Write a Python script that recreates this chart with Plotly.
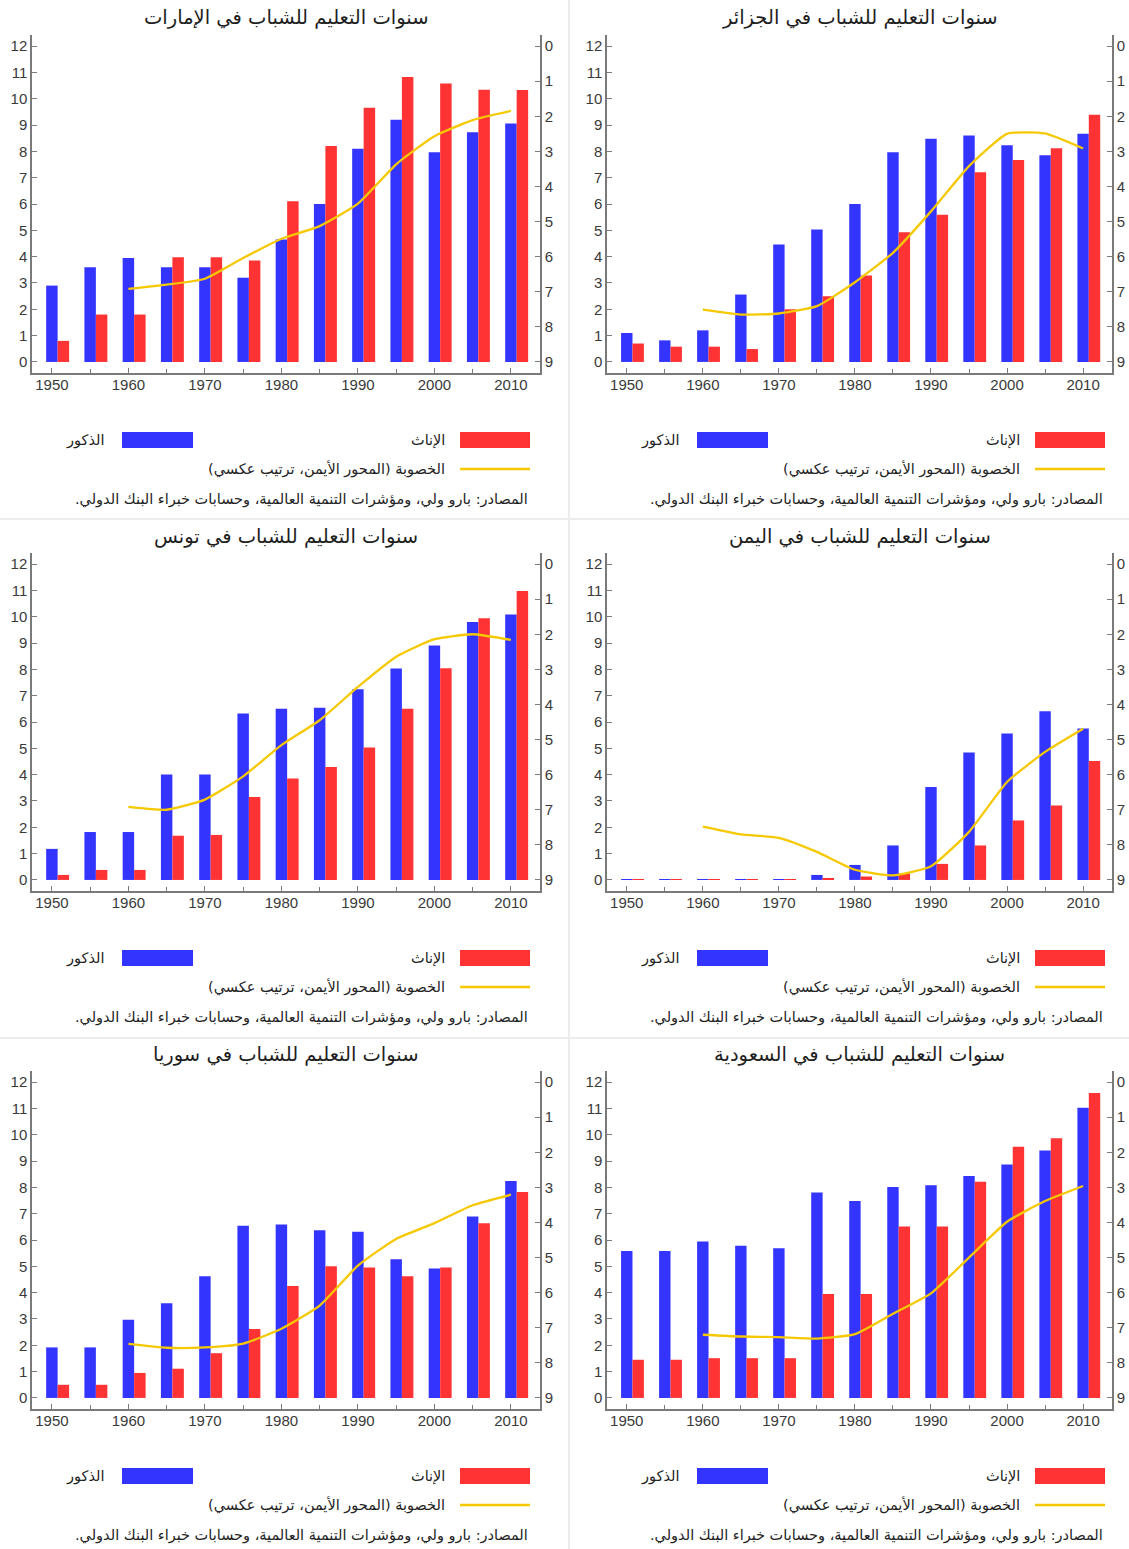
import plotly.graph_objects as go

# ---- data -----------------------------------------------------------------
years = [1950, 1955, 1960, 1965, 1970, 1975, 1980, 1985, 1990, 1995, 2000, 2005, 2010]
fert_years = [1960, 1965, 1970, 1975, 1980, 1985, 1990, 1995, 2000, 2005, 2010]

titles = [
    "سنوات التعليم للشباب في الإمارات",
    "سنوات التعليم للشباب في الجزائر",
    "سنوات التعليم للشباب في تونس",
    "سنوات التعليم للشباب في اليمن",
    "سنوات التعليم للشباب في سوريا",
    "سنوات التعليم للشباب في السعودية",
]

uae_male = [2.9, 3.6, 3.95, 3.6, 3.6, 3.2, 4.65, 6.0, 8.1, 9.2, 7.97, 8.73, 9.06]
uae_female = [0.8, 1.8, 1.8, 3.98, 3.98, 3.85, 6.1, 8.2, 9.66, 10.82, 10.58, 10.34, 10.33]
uae_fert = [6.92, 6.8, 6.63, 6.04, 5.49, 5.13, 4.49, 3.37, 2.57, 2.11, 1.85]

dza_male = [1.1, 0.82, 1.2, 2.56, 4.46, 5.03, 6.0, 7.97, 8.48, 8.6, 8.23, 7.85, 8.67]
dza_female = [0.7, 0.58, 0.58, 0.49, 2.0, 2.5, 3.28, 4.93, 5.59, 7.21, 7.67, 8.12, 9.39]
dza_fert = [7.51, 7.65, 7.62, 7.41, 6.73, 5.89, 4.71, 3.42, 2.5, 2.49, 2.92]

tun_male = [1.18, 1.82, 1.82, 4.01, 4.01, 6.32, 6.5, 6.54, 7.24, 8.03, 8.91, 9.8, 10.08]
tun_female = [0.19, 0.38, 0.38, 1.68, 1.71, 3.15, 3.85, 4.29, 5.03, 6.5, 8.04, 9.94, 10.98]
tun_fert = [6.92, 7.0, 6.71, 6.05, 5.16, 4.45, 3.5, 2.64, 2.14, 2.0, 2.16]

yem_male = [0.03, 0.03, 0.03, 0.03, 0.03, 0.19, 0.57, 1.31, 3.53, 4.84, 5.56, 6.41, 5.75]
yem_female = [0.03, 0.03, 0.03, 0.03, 0.03, 0.04, 0.13, 0.25, 0.61, 1.31, 2.26, 2.83, 4.52]
yem_fert = [7.48, 7.7, 7.8, 8.2, 8.71, 8.87, 8.61, 7.63, 6.21, 5.35, 4.69]

syr_male = [1.92, 1.92, 2.97, 3.6, 4.62, 6.54, 6.59, 6.37, 6.31, 5.27, 4.92, 6.89, 8.24]
syr_female = [0.5, 0.5, 0.95, 1.11, 1.7, 2.62, 4.25, 5.0, 4.96, 4.62, 4.96, 6.64, 7.82]
syr_fert = [7.46, 7.57, 7.56, 7.45, 7.03, 6.37, 5.23, 4.47, 4.02, 3.51, 3.21]

sau_male = [5.58, 5.58, 5.94, 5.78, 5.69, 7.8, 7.48, 8.01, 8.08, 8.43, 8.87, 9.4, 11.02]
sau_female = [1.45, 1.45, 1.51, 1.51, 1.51, 3.95, 3.95, 6.51, 6.51, 8.21, 9.54, 9.87, 11.58]
sau_fert = [7.2, 7.25, 7.27, 7.31, 7.18, 6.6, 6.02, 5.0, 3.98, 3.39, 2.96]

male_series = [uae_male, dza_male, tun_male, yem_male, syr_male, sau_male]
female_series = [uae_female, dza_female, tun_female, yem_female, syr_female, sau_female]
fert_series = [uae_fert, dza_fert, tun_fert, yem_fert, syr_fert, sau_fert]

lbl_female = "الإناث"
lbl_male = "الذكور"
RLM = "\u200f"
lbl_fert = "الخصوبة (المحور الأيمن، ترتيب عكسي)" + RLM
lbl_source = "المصادر: بارو ولي، ومؤشرات التنمية العالمية، وحسابات خبراء البنك الدولي." + RLM

# ---- styling ----------------------------------------------------------------
W, H = 1129, 1549
BLUE = "#3434FF"
RED = "#FF3333"
GOLD = "#F6C800"
AXIS = "#7a7a7a"
TICKFONT = dict(family="Liberation Sans, Arial, sans-serif", size=15, color="#3a3a3a")
ARFONT = "DejaVu Sans, sans-serif"


def px(x):
    return x / W


def py(y):
    return 1 - y / H


col_x = [(32, 540), (607, 1112)]
row_y = [(35, 373), (553, 891), (1071, 1409)]
col_shift = [0, 575]
row_shift = [0, 518, 1036]

fig = go.Figure()
layout = {}
shapes = []
annotations = []

for k in range(6):
    r, c = divmod(k, 2)
    n = k + 1
    xa = "x" if n == 1 else f"x{n}"
    ya = "y" if n == 1 else f"y{2 * n - 1}"
    yb = f"y{2 * n}"

    fig.add_trace(go.Bar(x=years, y=male_series[k], width=1.5, offset=-0.75,
                         marker=dict(color=BLUE, line_width=0),
                         xaxis=xa, yaxis=ya, showlegend=False, name=lbl_male))
    fig.add_trace(go.Bar(x=years, y=female_series[k], width=1.5, offset=0.75,
                         marker=dict(color=RED, line_width=0),
                         xaxis=xa, yaxis=ya, showlegend=False, name=lbl_female))
    fig.add_trace(go.Scatter(x=fert_years, y=fert_series[k], mode="lines",
                             line=dict(color=GOLD, width=2.3, shape="spline", smoothing=0.5),
                             xaxis=xa, yaxis=yb, showlegend=False, name=lbl_fert))

    x0, x1 = col_x[c]
    y0, y1 = row_y[r]
    xdom = [px(x0), px(x1)]
    ydom = [py(y1), py(y0)]

    layout["xaxis" if n == 1 else f"xaxis{n}"] = dict(
        domain=xdom, anchor=ya, range=[1947.4, 2013.8],
        tickvals=list(range(1950, 2011, 10)), ticks="inside", ticklen=5,
        tickcolor=AXIS, tickwidth=1.2, ticklabelstandoff=-3,
        minor=dict(tickvals=list(range(1955, 2010, 10)), ticks="inside", ticklen=4,
                   tickcolor=AXIS, tickwidth=1),
        showline=True, linecolor=AXIS, linewidth=1.5, showgrid=False, zeroline=False,
        tickfont=TICKFONT, fixedrange=True,
    )
    layout["yaxis" if n == 1 else f"yaxis{2 * n - 1}"] = dict(
        domain=ydom, anchor=xa, range=[-0.42, 12.42],
        tickvals=list(range(0, 13)), ticks="inside", ticklen=5, tickcolor=AXIS,
        tickwidth=1.2, showline=True, linecolor=AXIS, linewidth=1.5,
        showgrid=False, zeroline=False, tickfont=TICKFONT,
    )
    layout[f"yaxis{2 * n}"] = dict(
        domain=ydom, anchor=xa, overlaying=ya, side="right",
        range=[9.315, -0.315], tickvals=list(range(0, 10)), ticks="inside",
        ticklen=5, tickcolor=AXIS, tickwidth=1.2, showline=True, linecolor=AXIS,
        linewidth=1.5, showgrid=False, zeroline=False, tickfont=TICKFONT,
    )

    # panel title
    annotations.append(dict(text=titles[k], x=px((x0 + x1) / 2), y=py(18 + row_shift[r]),
                            xref="paper", yref="paper", xanchor="center", yanchor="middle",
                            showarrow=False,
                            font=dict(family=ARFONT, size=19.5, color="#1e1e1e")))

    # legend block under each panel
    dx, dy = col_shift[c], row_shift[r]
    shapes.append(dict(type="rect", xref="paper", yref="paper",
                       x0=px(460 + dx), x1=px(530 + dx), y0=py(448 + dy), y1=py(432 + dy),
                       fillcolor=RED, line_width=0))
    shapes.append(dict(type="rect", xref="paper", yref="paper",
                       x0=px(122 + dx), x1=px(193 + dx), y0=py(448 + dy), y1=py(432 + dy),
                       fillcolor=BLUE, line_width=0))
    shapes.append(dict(type="line", xref="paper", yref="paper",
                       x0=px(460 + dx), x1=px(530 + dx), y0=py(469 + dy), y1=py(469 + dy),
                       line=dict(color=GOLD, width=2.5)))
    leg_font = dict(family=ARFONT, size=14.5, color="#222222")
    for txt, xr, yc in [(lbl_female, 447, 440), (lbl_male, 106, 440),
                        (lbl_fert, 447, 469), (lbl_source, 530, 499)]:
        annotations.append(dict(text=txt, x=px(xr + dx), y=py(yc + dy), xref="paper",
                                yref="paper", xanchor="right", yanchor="middle",
                                showarrow=False, font=leg_font))

# faint separators between panels
shapes.append(dict(type="line", xref="paper", yref="paper", x0=px(569), x1=px(569),
                   y0=0, y1=1, line=dict(color="#ececec", width=2)))
for yy in (519, 1038):
    shapes.append(dict(type="line", xref="paper", yref="paper", x0=0, x1=1,
                       y0=py(yy), y1=py(yy), line=dict(color="#ececec", width=2)))

fig.update_layout(
    width=W, height=H, margin=dict(l=0, r=0, t=0, b=0),
    paper_bgcolor="white", plot_bgcolor="white",
    barmode="overlay", showlegend=False,
    shapes=shapes, annotations=annotations, **layout,
)

fig.write_html("out.html")
